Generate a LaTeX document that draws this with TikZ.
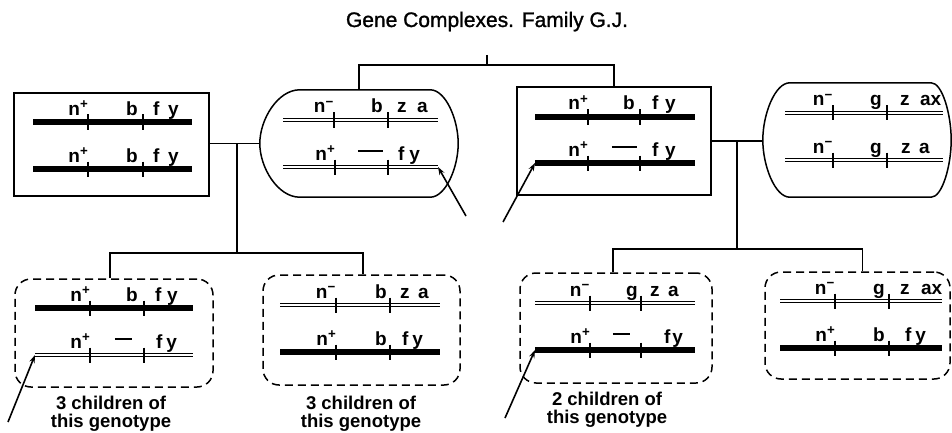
\documentclass[tikz,border=0pt]{standalone}
\usepackage{fontspec}
\setmainfont{Liberation Sans}
\newfontfamily\headingfont{Liberation Sans}[FakeBold=1.2]
\usetikzlibrary{arrows.meta,calc}

% gene symbols
\newcommand{\nplus}{n\textsuperscript{+}}
\newcommand{\nminus}{n\textsuperscript{\char"2212}}
\newcommand{\delmark}[1]{\rule[8pt]{#1pt}{2pt}}

\tikzset{
  boxline/.style={line width=1.5pt},
  solidbox/.style={draw, boxline, rectangle, inner sep=0pt},
  dashbox/.style={draw, boxline, rectangle, rounded corners=16pt,
                  dash pattern=on 8pt off 5pt, inner sep=0pt},
  hiddenbox/.style={rectangle, inner sep=0pt},
  link/.style={line width=1.5pt},
  thickchr/.style={line width=5.5pt},
  dblchr/.style={double, double distance=2.4pt, line width=1.2pt},
  locus/.style={line width=1.8pt},
  gene/.style={inner sep=0pt, font=\bfseries\fontsize{19}{19}\selectfont},
  pointer/.style={line width=1.6pt, -{Stealth[length=8pt,width=5.5pt]}},
  caption/.style={font=\bfseries\fontsize{18.5}{18}\selectfont,
                  align=center, inner sep=0pt},
}

% chromosome: name, style, x-left, x-right, y, locus 1, locus 2
\newcommand{\chrline}[7]{%
  \coordinate (#1-L) at (#3,#5);
  \coordinate (#1-R) at (#4,#5);
  \draw[#2] (#1-L) -- (#1-R);
  \draw[locus] (#6,#5-7.5) -- (#6,#5+7.5);
  \draw[locus] (#7,#5-7.5) -- (#7,#5+7.5);
}
% gene labels: name, y, left-label end, middle-label end, right-label start, texts
\newcommand{\genes}[8]{%
  \node[gene, anchor=base east] (#1-a) at (#3,#2-7) {#6};
  \node[gene, anchor=base east] (#1-b) at (#4,#2-7) {#7};
  \node[gene, anchor=base west] (#1-c) at (#5,#2-7) {#8};
}
% oval outline round a node: node, left bulge, right bulge
\newcommand{\ovaloutline}[3]{%
  \draw[boxline] let \p1=(#1.north west), \p2=(#1.south east), \p3=(#1.center) in
    (\x1+#2,\y1) -- (\x2-#3,\y1)
    .. controls (\x2-0.448*#3,\y1) and (\x2,\y1+0.552*\y3-0.552*\y1) .. (\x2,\y3)
    .. controls (\x2,\y2+0.552*\y3-0.552*\y2) and (\x2-0.448*#3,\y2) .. (\x2-#3,\y2)
    -- (\x1+#2,\y2)
    .. controls (\x1+0.448*#2,\y2) and (\x1,\y2+0.552*\y3-0.552*\y2) .. (\x1,\y3)
    .. controls (\x1,\y1+0.552*\y3-0.552*\y1) and (\x1+0.448*#2,\y1) .. (\x1+#2,\y1)
    -- cycle;
}

\begin{document}
\begin{tikzpicture}[x=1pt, y=-1pt]
\useasboundingbox (0,0) rectangle (952,433);

\node[anchor=base, inner sep=0pt, font=\headingfont\fontsize{21}{21}\selectfont]
  (title) at (487,27) {Gene Complexes. Family G.J.};

% parents and grandparents
\node[solidbox, minimum width=195pt, minimum height=103pt] (b1) at (111.5,144.5) {};
\node[hiddenbox, minimum width=198pt, minimum height=107pt] (b2) at (359,143.5) {};
\ovaloutline{b2}{40pt}{28pt}
\node[solidbox, minimum width=194pt, minimum height=108pt] (b3) at (614,141) {};
\node[hiddenbox, minimum width=188pt, minimum height=114pt] (b4) at (857,140) {};
\ovaloutline{b4}{27pt}{20pt}

% children
\node[dashbox, minimum width=198pt, minimum height=108pt] (b5) at (114,333) {};
\node[dashbox, minimum width=197pt, minimum height=110pt] (b6) at (361.5,330) {};
\node[dashbox, minimum width=192pt, minimum height=110pt] (b7) at (616,328) {};
\node[dashbox, minimum width=185pt, minimum height=107pt] (b8) at (857.5,325.5) {};

% box 1
\chrline{b1u}{thickchr}{33}{192}{122}{88}{143}
\genes{b1u}{122}{88.5}{138}{153}{\nplus}{b}{f\hspace{0.45em}y}
\chrline{b1d}{thickchr}{33}{192}{169}{88}{143}
\genes{b1d}{169}{88.5}{138}{153}{\nplus}{b}{f\hspace{0.45em}y}
% box 2
\chrline{b2u}{dblchr}{283}{438}{120}{334}{388}
\genes{b2u}{120}{334}{383}{397}{\nminus}{b}{z\hspace{0.55em}a}
\chrline{b2d}{dblchr}{283}{438}{167}{335}{388}
\genes{b2d}{167}{335.5}{383}{398}{\nplus}{\delmark{25}}{f\hspace{0.25em}y}
% box 3
\chrline{b3u}{thickchr}{535}{695}{117}{588}{640}
\genes{b3u}{117}{588.5}{635}{652}{\nplus}{b}{f\hspace{0.35em}y}
\chrline{b3d}{thickchr}{535}{695}{163}{588}{640}
\genes{b3d}{163}{588.5}{637}{652}{\nplus}{\delmark{25}}{f\hspace{0.35em}y}
% box 4
\chrline{b4u}{dblchr}{785}{943}{113}{833}{887}
\genes{b4u}{113}{833}{882}{900}{\nminus}{g}{z\hspace{0.55em}ax}
\chrline{b4d}{dblchr}{785}{943}{160}{833}{887}
\genes{b4d}{160}{833}{882}{901}{\nminus}{g}{z\hspace{0.45em}a}
% box 5
\chrline{b5u}{thickchr}{35}{193}{308}{90}{144}
\genes{b5u}{308}{90.5}{138}{155}{\nplus}{b}{f\hspace{0.3em}y}
\chrline{b5d}{dblchr}{35}{193}{355}{90}{144}
\genes{b5d}{355}{90.5}{132}{156}{\nplus}{\delmark{17}}{f\hspace{0.2em}y}
% box 6
\chrline{b6u}{dblchr}{280}{440}{305}{336}{390}
\genes{b6u}{305}{336}{387}{400}{\nminus}{b}{z\hspace{0.45em}a}
\chrline{b6d}{thickchr}{280}{440}{352}{336}{390}
\genes{b6d}{352}{336.5}{387}{402}{\nplus}{b}{f\hspace{0.2em}y}
% box 7
\chrline{b7u}{dblchr}{535}{695}{303}{590}{641}
\genes{b7u}{303}{590}{638}{650}{\nminus}{g}{z\hspace{0.45em}a}
\chrline{b7d}{thickchr}{535}{695}{350}{590}{641}
\genes{b7d}{350}{590.5}{630}{664}{\nplus}{\delmark{17}}{f\hspace{0.1em}y}
% box 8
\chrline{b8u}{dblchr}{780}{942}{301}{835}{889}
\genes{b8u}{301}{835}{885}{900}{\nminus}{g}{z\hspace{0.6em}ax}
\chrline{b8d}{thickchr}{780}{942}{348}{835}{889}
\genes{b8d}{348}{835.5}{885}{905}{\nplus}{b}{f\hspace{0.2em}y}

% pedigree lines
\coordinate (top) at (487,65);
\coordinate (topend) at (487,55);
\draw[link] (topend) -- (top);
\draw[link] (b2.north) |- (top) -| (b3.north);

\draw[link] (b2.west) -- (b2.west -| b1.east);
\coordinate (jl) at (237,143.5);
\coordinate (kl) at (237,253);
\draw[link] (jl) -- (kl);
\draw[link] ([xshift=-4pt]b5.north) |- (kl) -| ([xshift=1.5pt]b6.north);

\draw[link] (b3.east) -- (b3.east -| b4.west);
\coordinate (jr) at (737,141);
\coordinate (kr) at (737,249);
\draw[link] (jr) -- (kr);
\draw[link] ([xshift=-3pt]b7.north) |- (kr) -| ([xshift=5pt]b8.north);

% crossover pointers
\coordinate (t2) at (466,216);
\draw[pointer] (t2) -- (b2d-R);
\coordinate (t3) at (503,222);
\draw[pointer] (t3) -- (b3d-L);
\coordinate (t5) at (8,422);
\draw[pointer] (t5) -- (b5d-L);
\coordinate (t7) at (505,418);
\draw[pointer] (t7) -- (b7d-L);

% captions
\node[caption] (c5) at (111,414) {3 children of\\this genotype};
\node[caption] (c6) at (361,414) {3 children of\\this genotype};
\node[caption] (c7) at (607,410) {2 children of\\this genotype};
\end{tikzpicture}
\end{document}
